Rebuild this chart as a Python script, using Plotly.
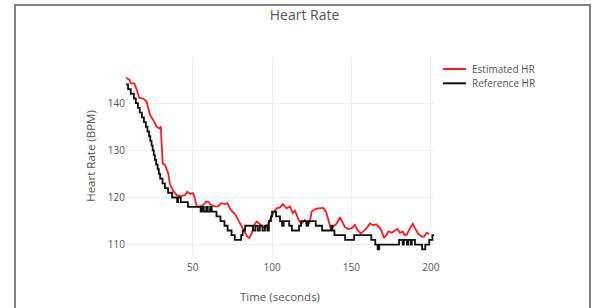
import plotly.graph_objects as go

# Estimated HR (red)
est_t = [8.0, 10.1, 11.0, 13.2, 14.7, 16.4, 18.9, 21.0, 23.1, 25.2, 27.3, 29.4, 29.9, 31.1,
         32.6, 33.6, 34.6, 35.7, 37.8, 39.9, 42.0, 45.2, 46.6, 48.3, 50.4, 51.5, 52.5, 54.6,
         56.7, 58.4, 59.8, 61.5, 64.1, 66.1, 67.8, 70.4, 71.8, 73.9, 75.6, 77.1, 78.7, 80.9,
         82.3, 84.4, 85.7, 87.2, 88.8, 90.3, 92.0, 93.9, 95.6, 97.6, 99.1, 100.8, 102.9, 105.0,
         106.7, 109.2, 111.3, 113.0, 114.4, 115.9, 117.2, 118.7, 120.7, 122.2, 123.5, 125.0,
         127.0, 129.1, 132.3, 134.0, 135.4, 136.9, 138.6, 140.7, 142.8, 144.5, 145.9, 148.0,
         150.2, 152.2, 153.7, 155.8, 157.5, 159.6, 161.7, 163.8, 165.5, 167.6, 169.1, 170.5,
         172.2, 173.2, 175.4, 177.4, 178.9, 180.6, 182.3, 183.3, 184.8, 186.9, 188.6, 190.0,
         192.1, 194.3, 195.7, 197.4, 199.0]
est_hr = [145.4, 145.0, 144.2, 144.2, 142.9, 141.1, 141.0, 140.3, 137.5, 136.4, 135.0, 134.6, 135.1, 127.2,
          126.9, 126.0, 125.1, 122.8, 121.4, 120.5, 120.3, 120.5, 121.2, 120.8, 120.9, 119.6, 118.1, 118.1,
          118.4, 119.1, 119.1, 118.4, 118.1, 118.1, 118.8, 118.6, 118.8, 117.4, 116.7, 116.3, 115.2, 113.8,
          112.8, 111.7, 111.4, 112.4, 114.2, 114.9, 114.5, 113.8, 113.5, 114.5, 115.6, 116.7, 117.7, 117.9,
          118.6, 117.7, 118.1, 116.7, 117.2, 115.9, 114.9, 114.5, 115.2, 114.2, 114.5, 117.0,
          117.5, 117.7, 117.8, 117.0, 115.2, 113.5, 113.8, 114.5, 115.8, 114.5, 113.7, 113.3,
          113.5, 114.2, 113.1, 112.4, 112.8, 113.5, 114.5, 114.1, 114.3, 113.7, 112.8, 111.4,
          112.1, 112.8, 112.5, 113.0, 113.3, 112.5, 112.8, 112.1, 112.1, 113.5, 114.4, 113.5,
          112.3, 111.7, 111.7, 112.5, 112.3]

# Reference HR (black, stepped)
ref_t = [8, 9.3, 11, 13, 14.2, 15.5, 16.7, 18, 19.3, 20.5, 21.5, 22.5, 23.3, 24.1, 24.8, 25.5,
         26.2, 27, 27.9, 28.7, 29.5, 31, 32.5, 34.5, 37, 40.2, 40.8, 42.5, 47, 55, 56, 57, 58.5,
         59.5, 61, 62, 65, 67.5, 70, 72, 74.5, 76.5, 80.5, 81.5, 83, 88, 89.5, 91, 92.3, 94, 95.5,
         97, 98, 99.3, 100, 102.5, 104, 105, 106.3, 107.3, 110.8, 112.5, 117, 118.3, 121.7, 122.7,
         127.5, 131.5, 137.3, 138, 139.3, 146, 151.7, 162.5, 165, 166.5, 167.5, 180, 182.3, 183,
         185, 185.7, 187.3, 188, 190, 194.5, 196.5, 199, 201, 202]
ref_hr = [144, 143, 142, 141, 140, 139, 138, 137, 136, 135, 134, 133, 132, 131, 130, 129,
          128, 127, 126, 125, 124, 123, 122, 121, 120, 119, 120, 119, 118, 117, 118, 117, 118,
          117, 118, 117, 116, 115, 114, 113, 112, 111, 112, 113, 114, 113, 114, 113, 114, 113, 114,
          113, 115, 116, 117, 116, 116, 115, 114, 115, 114, 113, 114, 115, 114, 115,
          114, 113, 114, 113, 112, 111, 112, 111, 110, 109, 110, 111, 110, 111,
          110, 111, 110, 111, 110, 109, 110, 111, 112, 112]

series_names = ["Estimated HR", "Reference HR"]
series_colors = ["#ff1a1a", "#111111"]

FONT = "Open Sans, Verdana, sans-serif"
TXT = "#555"

fig = go.Figure()
fig.add_trace(go.Scatter(x=est_t, y=est_hr, mode="lines", name=series_names[0],
                         line=dict(color=series_colors[0], width=1.8)))
fig.add_trace(go.Scatter(x=ref_t, y=ref_hr, mode="lines", name=series_names[1],
                         line=dict(color=series_colors[1], width=1.8, shape="hv")))

# compact legend drawn as shapes + labels (paper coordinates)
leg_rows = [0.9394, 0.8672]
for name, col, yy in zip(series_names, series_colors, leg_rows):
    fig.add_shape(type="line", xref="paper", yref="paper", x0=1.0292, x1=1.1039, y0=yy, y1=yy,
                  line=dict(color=col, width=2))
    fig.add_annotation(xref="paper", yref="paper", x=1.1169, y=yy, xanchor="left", yanchor="middle",
                       text=name, showarrow=False, font=dict(size=10, color=TXT))

# page frame around the chart
fig.add_shape(type="rect", xref="paper", yref="paper",
              x0=-0.3604, x1=1.5065, y0=-0.35, y1=1.2626,
              line=dict(color="#808080", width=2), fillcolor="rgba(0,0,0,0)", layer="below")

fig.update_layout(
    width=597, height=308,
    margin=dict(l=126, r=163, t=57, b=53, autoexpand=False),
    paper_bgcolor="white", plot_bgcolor="white",
    showlegend=False,
    font=dict(family=FONT, size=10, color=TXT),
    title=dict(text="Heart Rate", x=304.5 / 597, xref="container", xanchor="center",
               y=1 - 15 / 308, yref="container", yanchor="middle",
               font=dict(size=14, color=TXT)),
    xaxis=dict(range=[8, 202], dtick=50, tick0=0, showgrid=True, gridcolor="#eeeeee",
               zeroline=False, showline=False, ticks="", ticklabelstandoff=5,
               title=dict(text="Time (seconds)", font=dict(size=11.5, color=TXT), standoff=19),
               tickfont=dict(size=10, color=TXT)),
    yaxis=dict(range=[107.8, 149.8], dtick=10, tick0=0, showgrid=True, gridcolor="#eeeeee",
               zeroline=False, showline=False, ticks="",
               title=dict(text="Heart Rate (BPM)", font=dict(size=11.5, color=TXT), standoff=9),
               tickfont=dict(size=10, color=TXT)),
)

fig.write_html("out.html", config={"displayModeBar": False},
               post_script="document.body.style.margin='0';document.body.style.overflow='hidden';")
